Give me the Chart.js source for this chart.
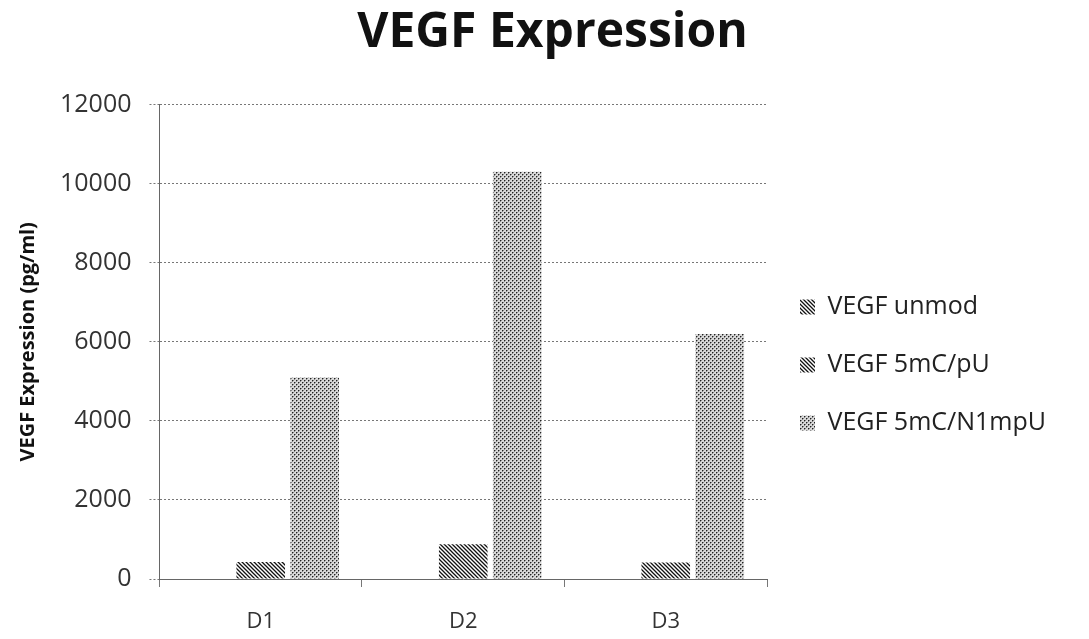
<!DOCTYPE html>
<html>
<head>
<meta charset="utf-8">
<script src="https://cdn.jsdelivr.net/npm/chart.js@4.4.0/dist/chart.umd.min.js"></script>
<style>
html,body{margin:0;padding:0;background:#fff;}
#wrap{width:1089px;height:639px;position:relative;}
</style>
</head>
<body>
<div id="wrap"><canvas id="c" width="1089" height="639"></canvas></div>
<script>
const categories = ["D1", "D2", "D3"];
const seriesNames = ["VEGF unmod", "VEGF 5mC/pU", "VEGF 5mC/N1mpU"];
const unmodValues = [0, 0, 0];
const pUValues = [430, 880, 420];
const n1mpUValues = [5100, 10300, 6200];
const yTicks = [0, 2000, 4000, 6000, 8000, 10000, 12000];

function hatchPattern(){
  const c = document.createElement('canvas');
  c.width = 4; c.height = 4;
  const g = c.getContext('2d');
  g.fillStyle = '#ffffff'; g.fillRect(0,0,4,4);
  g.strokeStyle = '#111'; g.lineWidth = 1.3;
  g.beginPath();
  g.moveTo(-1,-1); g.lineTo(5,5);
  g.moveTo(-1,3); g.lineTo(1,5);
  g.moveTo(3,-1); g.lineTo(5,1);
  g.stroke();
  return g.createPattern(c,'repeat');
}
function dotPattern(){
  const c = document.createElement('canvas');
  c.width = 4; c.height = 4;
  const g = c.getContext('2d');
  g.fillStyle = '#d8d8d8'; g.fillRect(0,0,4,4);
  g.fillStyle = '#222';
  g.fillRect(0,0,1,1); g.fillRect(2,2,1,1);
  g.fillStyle = '#888';
  g.fillRect(1,0,1,1); g.fillRect(3,2,1,1);
  g.fillRect(0,1,1,1); g.fillRect(2,3,1,1);
  return g.createPattern(c,'repeat');
}
const hatch = hatchPattern();
const dots = dotPattern();

const legendWidthPlugin = {
  id: 'legendWidth',
  afterInit(chart){
    const lg = chart.legend;
    if (!lg) return;
    const f = lg.fit.bind(lg);
    lg.fit = function(){ f(); this.width = 322; };
  }
};

new Chart(document.getElementById('c'), {
  type: 'bar',
  data: {
    labels: categories,
    datasets: [
      {label: seriesNames[0], data: unmodValues, backgroundColor: hatch, borderWidth: 0},
      {label: seriesNames[1], data: pUValues, backgroundColor: hatch, borderWidth: 0},
      {label: seriesNames[2], data: n1mpUValues, backgroundColor: dots, borderWidth: 0}
    ]
  },
  options: {
    responsive: false,
    animation: false,
    layout: {padding: {left: 16, right: 0, top: 0, bottom: -18}},
    plugins: {
      title: {
        display: true,
        text: 'VEGF Expression',
        color: '#111',
        font: {family: 'Open Sans', size: 48, weight: 'bold'},
        padding: {top: 5, bottom: 42}
      },
      legend: {
        position: 'right',
        align: 'center',
        title: {
          display: true,
          text: ' ',
          font: {family: 'Open Sans', size: 10},
          padding: {top: 61, bottom: 0}
        },
        labels: {
          color: '#222',
          font: {family: 'Open Sans', size: 25},
          boxWidth: 15,
          boxHeight: 15,
          padding: 33
        }
      },
      tooltip: {enabled: false}
    },
    scales: {
      x: {
        categoryPercentage: 0.7,
        barPercentage: 0.98,
        grid: {display: true, drawOnChartArea: false, drawTicks: true, tickLength: 8, color: '#777', offset: true},
        border: {display: true, color: '#666', dash: [2,2]},
        ticks: {color: '#333', font: {family: 'Open Sans', size: 22, lineHeight: 1.0}, padding: 24}
      },
      y: {
        min: 0, max: 12000,
        afterBuildTicks: (axis) => { axis.ticks = yTicks.map(v => ({value: v})); },
        grid: {color: '#777', tickLength: 10, tickBorderDash: [2,2]},
        border: {display: true, color: '#666', dash: [2,2]},
        ticks: {color: '#333', font: {family: 'Open Sans', size: 25}, padding: 18,
                callback: (v) => String(v)},
        title: {
          display: true,
          text: 'VEGF Expression (pg/ml)',
          color: '#111',
          font: {family: 'Open Sans', size: 20, weight: 'bold'},
          padding: {top: 0, bottom: 2}
        }
      }
    }
  },
  plugins: [legendWidthPlugin]
});
</script>
</body>
</html>
